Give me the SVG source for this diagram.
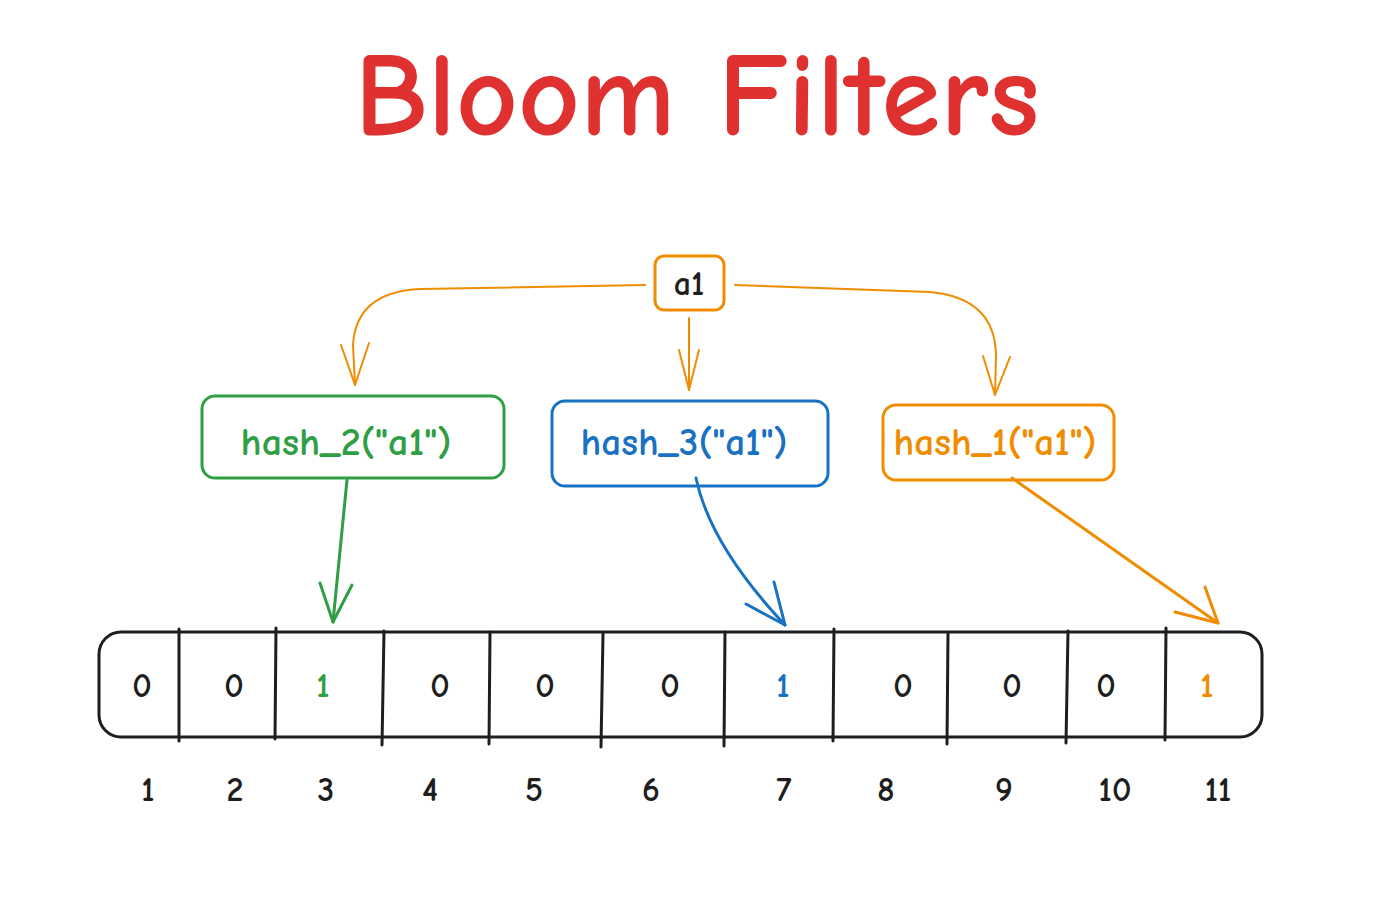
<svg xmlns="http://www.w3.org/2000/svg" width="1400" height="917" viewBox="0 0 1400 917">
<style>
text{font-family:"Comic Neue","Liberation Sans","DejaVu Sans",sans-serif;text-anchor:middle;font-weight:bold}
.t{fill:#e03131;font-size:120px}
.num{fill:#1e1e1e;font-size:34px}
.bit{font-size:34px}
.k{fill:#1e1e1e}
.g{fill:#2f9e44}
.b{fill:#1971c2}
.o{fill:#f08c00}
.lbl{font-size:38px}
.box{fill:none;stroke-width:3;stroke-linejoin:round}
.c{fill:none;stroke-linecap:round;stroke-linejoin:round}
</style>
<rect width="1400" height="917" fill="#fff"/>
<text class="t" x="697" y="135" textLength="685" lengthAdjust="spacingAndGlyphs">Bloom Filters</text>

<g id="node-a1">
<rect class="box" x="655" y="256" width="69" height="54" rx="9" stroke="#f08c00"/>
<text class="k" x="689" y="295" font-size="34">a1</text>
</g>
<g id="node-hash2">
<rect class="box" x="202" y="396" width="302" height="82" rx="13" stroke="#2f9e44"/>
<text class="lbl g" x="346" y="455" textLength="211" lengthAdjust="spacingAndGlyphs">hash_2("a1")</text>
</g>
<g id="node-hash3">
<rect class="box" x="552" y="401" width="276" height="85" rx="13" stroke="#1971c2"/>
<text class="lbl b" x="684" y="455" textLength="207" lengthAdjust="spacingAndGlyphs">hash_3("a1")</text>
</g>
<g id="node-hash1">
<rect class="box" x="883" y="405" width="231" height="75" rx="13" stroke="#f08c00"/>
<text class="lbl o" x="995" y="455" textLength="203" lengthAdjust="spacingAndGlyphs">hash_1("a1")</text>
</g>

<g id="node-array">
<rect class="box" x="99" y="632" width="1163" height="105" rx="22" stroke="#1e1e1e"/>
<g stroke="#1e1e1e" stroke-width="3" stroke-linecap="round">
<line x1="179" y1="629" x2="179" y2="741"/>
<line x1="276" y1="628" x2="275" y2="739"/>
<line x1="384" y1="631" x2="382" y2="745"/>
<line x1="490" y1="632" x2="489" y2="744"/>
<line x1="603" y1="634" x2="601" y2="747"/>
<line x1="725" y1="632" x2="724" y2="746"/>
<line x1="834" y1="629" x2="833" y2="741"/>
<line x1="948" y1="633" x2="947" y2="744"/>
<line x1="1068" y1="631" x2="1066" y2="743"/>
<line x1="1166" y1="628" x2="1165" y2="740"/>
</g>
<text class="bit k" x="142" y="697">0</text>
<text class="bit k" x="234" y="697">0</text>
<text class="bit g" x="323" y="697">1</text>
<text class="bit k" x="440" y="697">0</text>
<text class="bit k" x="545" y="697">0</text>
<text class="bit k" x="670" y="697">0</text>
<text class="bit b" x="783" y="697">1</text>
<text class="bit k" x="903" y="697">0</text>
<text class="bit k" x="1012" y="697">0</text>
<text class="bit k" x="1106" y="697">0</text>
<text class="bit o" x="1207" y="697">1</text>
</g>

<g id="indices">
<text class="num" x="148" y="801">1</text>
<text class="num" x="235" y="801">2</text>
<text class="num" x="326" y="801">3</text>
<text class="num" x="430" y="801">4</text>
<text class="num" x="534" y="801">5</text>
<text class="num" x="651" y="801">6</text>
<text class="num" x="784" y="801">7</text>
<text class="num" x="886" y="801">8</text>
<text class="num" x="1004" y="801">9</text>
<text class="num" x="1115" y="801">10</text>
<text class="num" x="1218" y="801">11</text>
</g>

<g id="connectors">
<g stroke="#f08c00" stroke-width="2" class="c">
<path class="c" d="M645 285 L420 289 Q356 292 353 345 L355 385"/>
<path class="c" d="M341 345 L355 385 L369 343"/>
<path class="c" d="M689 318 L689 390"/>
<path class="c" d="M679 350 L689 390 L699 350"/>
<path class="c" d="M735 285 L930 292 Q995 298 996 355 L995 395"/>
<path class="c" d="M983 356 L995 395 L1010 357"/>
</g>
<g stroke="#2f9e44" stroke-width="3" class="c">
<path class="c" d="M347 480 L333 622"/>
<path class="c" d="M320 583 L333 622 L352 585"/>
</g>
<g stroke="#1971c2" stroke-width="3" class="c">
<path class="c" d="M696 478 Q710 545 785 625"/>
<path class="c" d="M746 604 L785 625 L774 582"/>
</g>
<g stroke="#f08c00" stroke-width="3" class="c">
<path class="c" d="M1012 478 L1218 623"/>
<path class="c" d="M1175 612 L1218 623 L1205 587"/>
</g>
</g>
</svg>
